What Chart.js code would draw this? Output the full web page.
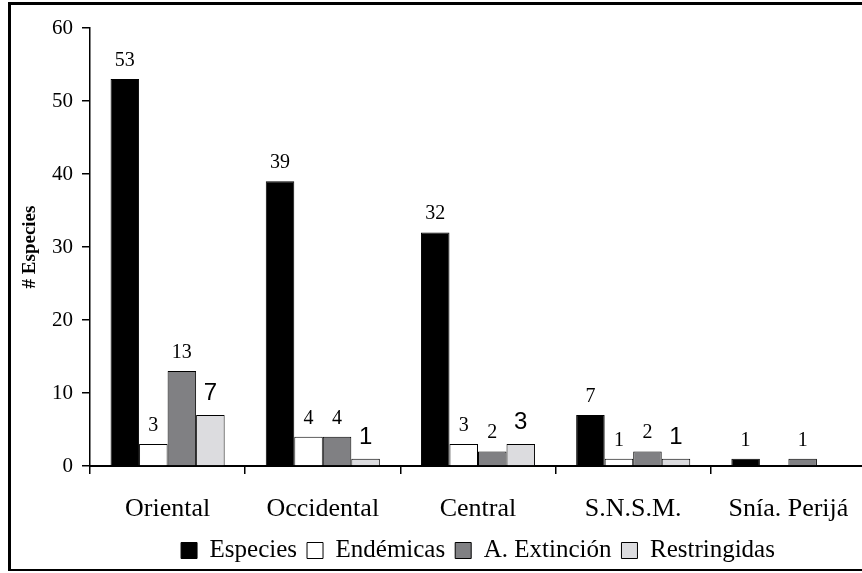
<!DOCTYPE html>
<html>
<head>
<meta charset="utf-8">
<script src="https://cdn.jsdelivr.net/npm/chart.js@4.4.1/dist/chart.umd.min.js"></script>
<style>
  html, body { margin: 0; padding: 0; background: #fff; overflow: hidden; width: 862px; height: 573px; }
  #wrap { position: absolute; left: 0; top: 0; width: 880px; height: 573px; }
  #frame { position: absolute; left: 8px; top: 2px; width: 900px; height: 569px; box-sizing: border-box;
           border-left: 3px solid #000; border-top: 3px solid #000; border-bottom: 2px solid #000; pointer-events: none; }
</style>
</head>
<body>
<div id="wrap"><canvas id="chart"></canvas></div>
<div id="frame"></div>
<script>
const regiones = ['Oriental', 'Occidental', 'Central', 'S.N.S.M.', 'Snía. Perijá'];
const especies = [53, 39, 32, 7, 1];
const endemicas = [3, 4, 3, 1, 0];
const extincion = [13, 4, 2, 2, 1];
const restringidas = [7, 1, 3, 1, 0];
const yTicks = [0, 10, 20, 30, 40, 50, 60];

const serif = '"Liberation Serif", "Times New Roman", serif';
const sans = '"Liberation Sans", Arial, sans-serif';

// label font + gap above bar, one per series (last one is bigger sans like the original)
const labelFonts = ['20px ' + serif, '20px ' + serif, '20px ' + serif, '24px ' + sans];
const labelGaps = [13, 13, 13, 15];

const barLabels = {
  id: 'barLabels',
  afterDatasetsDraw(chart) {
    const ctx = chart.ctx;
    ctx.save();
    ctx.fillStyle = '#000';
    ctx.textAlign = 'center';
    ctx.textBaseline = 'alphabetic';
    chart.data.datasets.forEach((ds, i) => {
      const meta = chart.getDatasetMeta(i);
      ctx.font = labelFonts[i];
      meta.data.forEach((bar, j) => {
        const v = ds.data[j];
        if (!v) return;
        ctx.fillText(v, bar.x, bar.y - labelGaps[i]);
      });
    });
    ctx.restore();
  }
};

function serie(label, data, color) {
  return { label: label, data: data, backgroundColor: color, borderColor: '#000', borderWidth: 1 };
}

new Chart(document.getElementById('chart'), {
  type: 'bar',
  data: {
    labels: regiones,
    datasets: [
      serie('Especies', especies, '#000000'),
      serie('Endémicas', endemicas, '#ffffff'),
      serie('A. Extinción', extincion, '#808083'),
      serie('Restringidas', restringidas, '#dcdcdf')
    ]
  },
  options: {
    responsive: true,
    maintainAspectRatio: false,
    animation: false,
    datasets: { bar: { categoryPercentage: 0.735, barPercentage: 1 } },
    layout: { padding: { left: 0, right: 14, top: 28, bottom: 0 } },
    plugins: {
      tooltip: { enabled: false },
      legend: {
        position: 'bottom',
        fullSize: false,
        labels: {
          boxWidth: 16,
          boxHeight: 16,
          color: '#000',
          padding: 10,
          font: { family: serif, size: 25 }
        }
      }
    },
    scales: {
      x: {
        grid: { display: true, drawOnChartArea: false, drawTicks: true, tickLength: 8, color: '#000', lineWidth: 1.5, offset: true },
        border: { display: true, color: '#000', width: 2 },
        ticks: { color: '#000', font: { family: serif, size: 26 }, padding: 20, maxRotation: 0, autoSkip: false },
        afterFit(scale) { scale.height = 62; }
      },
      y: {
        min: 0,
        max: 60,
        afterBuildTicks(scale) { scale.ticks = yTicks.map(v => ({ value: v })); },
        grid: { drawOnChartArea: false, drawTicks: true, tickLength: 8, color: '#000', lineWidth: 1.5 },
        border: { display: true, color: '#000', width: 1.5 },
        ticks: { color: '#000', font: { family: serif, size: 21 }, padding: 9 },
        title: { display: true, text: '# Especies', color: '#000', font: { family: serif, size: 19, weight: 'bold' }, padding: { top: 19, bottom: 0 } },
        afterFit(scale) { scale.width = 90; }
      }
    }
  },
  plugins: [barLabels]
});
</script>
</body>
</html>
